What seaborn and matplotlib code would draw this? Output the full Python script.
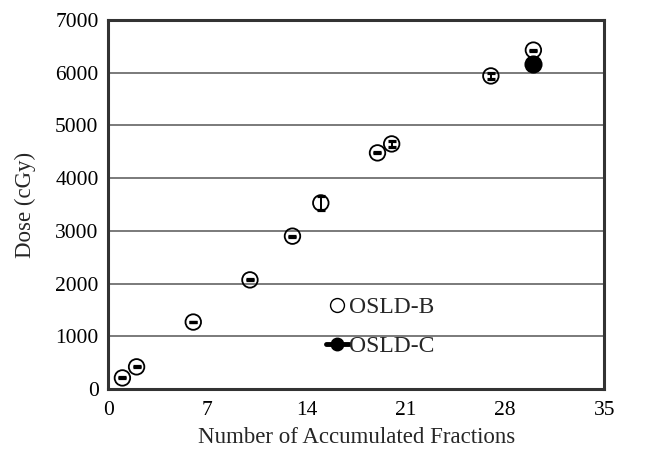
import numpy as np
import pandas as pd
import seaborn as sns
import matplotlib.pyplot as plt
from matplotlib.lines import Line2D

# data
fractions_b = [1, 2, 6, 10, 13, 15, 19, 20, 27, 30]
dose_b = [210, 420, 1270, 2070, 2900, 3530, 4480, 4650, 5940, 6430]
err_b = [8, 8, 8, 8, 8, 130, 8, 50, 50, 8]
fractions_c = [30]
dose_c = [6170]
err_c = [8]

x_ticks = [0, 7, 14, 21, 28, 35]
y_ticks = [0, 1000, 2000, 3000, 4000, 5000, 6000, 7000]

df_b = pd.DataFrame({"fractions": fractions_b, "dose": dose_b, "err": err_b})
df_c = pd.DataFrame({"fractions": fractions_c, "dose": dose_c, "err": err_c})

sns.set_style("white")
plt.rcParams["font.family"] = ["Liberation Serif", "DejaVu Serif"]

fig = plt.figure(figsize=(6.64, 4.51), dpi=100)
ax = fig.add_axes([0.163, 0.1375, 0.747, 0.818])

# grid
ax.yaxis.grid(True, color="#707070", linewidth=1.3)
ax.set_axisbelow(True)

# error bars
ax.errorbar(df_b["fractions"], df_b["dose"], yerr=df_b["err"], fmt="none",
            ecolor="black", elinewidth=1.4, capsize=3, capthick=2.3, zorder=4)
ax.errorbar(df_c["fractions"], df_c["dose"], yerr=df_c["err"], fmt="none",
            ecolor="black", elinewidth=1.4, capsize=3, capthick=2.3, zorder=2)

# points
sns.scatterplot(data=df_b, x="fractions", y="dose", ax=ax, marker="o", s=125,
                facecolor="none", edgecolor="black", linewidth=1.3, zorder=3)
sns.scatterplot(data=df_c, x="fractions", y="dose", ax=ax, marker="o", s=170,
                color="black", edgecolor="black", linewidth=0, zorder=3)

ax.set_xlim(0, 35)
ax.set_ylim(0, 7000)
ax.set_xticks(x_ticks)
ax.set_yticks(y_ticks)
ax.tick_params(axis="y", labelsize=15.5, length=0, pad=7, colors="black")
ax.tick_params(axis="x", labelsize=15.5, length=0, pad=9, colors="black")

for side in ["top", "right", "bottom", "left"]:
    ax.spines[side].set_visible(True)
    ax.spines[side].set_color("#333333")
    ax.spines[side].set_linewidth(2.2)

ax.set_xlabel("Number of Accumulated Fractions", fontsize=16.5, labelpad=5)
ax.set_ylabel("Dose (cGy)", fontsize=16.5, labelpad=14)

handles = [
    Line2D([], [], marker="o", linestyle="none", markerfacecolor="white",
           markeredgecolor="black", markersize=10, markeredgewidth=1),
    Line2D([], [], marker="o", color="black", linewidth=3.5,
           markersize=9),
]
ax.legend(handles, ["OSLD-B", "OSLD-C"], loc="center", bbox_to_anchor=(0.548, 0.168),
          frameon=False, fontsize=17, handlelength=1.0, handletextpad=0.0,
          labelspacing=0.75, borderpad=0)

fig.savefig("out.png", dpi=100)
